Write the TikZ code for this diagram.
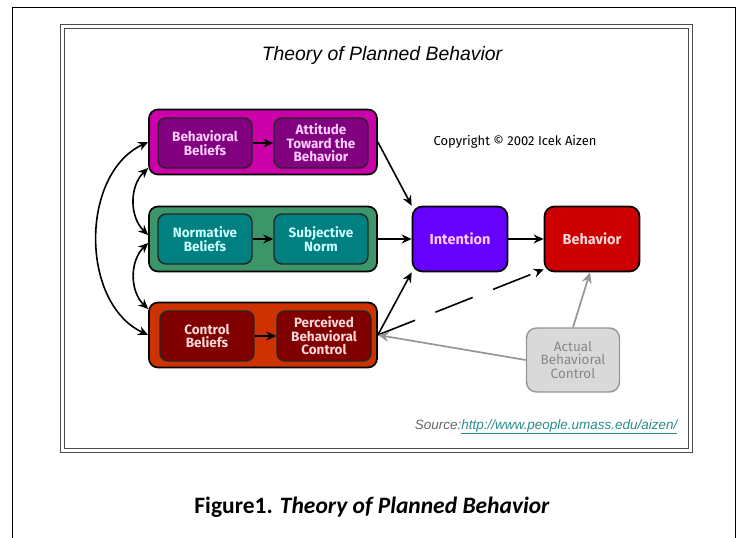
\documentclass[tikz,border=0pt]{standalone}
\usepackage{fontspec}
\usepackage{tikz}
\usepackage{xcolor}
\usetikzlibrary{arrows.meta}

\newfontfamily\comicfont{Fira Sans}
\newfontfamily\arialfont{Liberation Sans}
\newfontfamily\calibrifont{Carlito}

\definecolor{magout}{RGB}{204,0,170}
\definecolor{magin}{RGB}{128,0,128}
\definecolor{magtxt}{RGB}{255,204,255}
\definecolor{grnout}{RGB}{60,150,105}
\definecolor{grnin}{RGB}{0,128,128}
\definecolor{grntxt}{RGB}{204,255,255}
\definecolor{orgout}{RGB}{204,51,0}
\definecolor{orgin}{RGB}{128,0,0}
\definecolor{orgtxt}{RGB}{255,215,215}
\definecolor{intfill}{RGB}{102,0,255}
\definecolor{behfill}{RGB}{204,0,0}
\definecolor{actfill}{RGB}{217,217,217}
\definecolor{actline}{RGB}{150,150,150}
\definecolor{linkcol}{RGB}{40,140,140}

\begin{document}
\begin{tikzpicture}[x=1pt,y=-1pt,
    group/.style={draw=black, line width=1.7pt, rounded corners=9pt,
      minimum width=228pt, minimum height=65pt},
    inbox/.style={draw=black!85, line width=1.4pt, rounded corners=8pt,
      minimum width=94pt, minimum height=50pt, inner sep=1pt, align=center,
      font=\comicfont\bfseries\fontsize{13.5}{13.5}\selectfont},
    bigbox/.style={draw=black, line width=1.7pt, rounded corners=10pt,
      minimum width=95pt, minimum height=65pt,
      font=\comicfont\bfseries\fontsize{14.5}{15}\selectfont},
    arr/.style={-{Stealth[length=10pt,width=9pt]}, line width=1.6pt},
    both/.style={{Stealth[length=10pt,width=9pt]}-{Stealth[length=10pt,width=9pt]}, line width=1.6pt},
    grayarr/.style={-{Stealth[length=11pt,width=10pt]}, line width=1.7pt, draw=actline}]

    \useasboundingbox (0,0) rectangle (740,538);

    % page and frame
    \draw[line width=0.8pt] (12,538) -- (12,7) -- (735,7) -- (735,538);
    \draw[line width=1pt, black!70] (60,24) rectangle (692,452);
    \draw[line width=1pt, black!70] (64,28) rectangle (688,448);

    \node[font=\arialfont\itshape\fontsize{19.4}{19.4}\selectfont] (title) at (382,55) {Theory of Planned Behavior};
    \node[font=\comicfont\fontsize{13}{13}\selectfont] (copy) at (515,142) {Copyright \textcopyright{} 2002 Icek Aizen};

    % the three groups
    \node[group, fill=magout] (att) at (263,142) {};
    \node[inbox, fill=magin, text=magtxt] (bb) at (205,143) {Behavioral\\Beliefs};
    \node[inbox, fill=magin, text=magtxt] (ab) at (321,143) {Attitude\\Toward the\\Behavior};

    \node[group, fill=grnout] (norm) at (263,239) {};
    \node[inbox, fill=grnin, text=grntxt] (nb) at (205,239) {Normative\\Beliefs};
    \node[inbox, fill=grnin, text=grntxt] (sn) at (321,239) {Subjective\\Norm};

    \node[group, fill=orgout] (ctrl) at (263,335) {};
    \node[inbox, fill=orgin, text=orgtxt] (cb) at (207,336) {Control\\Beliefs};
    \node[inbox, fill=orgin, text=orgtxt] (pbc) at (324,336) {Perceived\\Behavioral\\Control};

    \node[bigbox, fill=intfill, text=magtxt] (int) at (460,239) {Intention};
    \node[bigbox, fill=behfill, text=orgtxt] (beh) at (592,239) {Behavior};
    \node[bigbox, fill=actfill, draw=actline, line width=1.4pt, text=actline!90!black, align=center,
      font=\comicfont\fontsize{13.5}{13.5}\selectfont, minimum width=93pt, minimum height=64pt] (act) at (573,360) {Actual\\Behavioral\\Control};

    % arrows
    \draw[arr] (bb) -- (ab);
    \draw[arr] (nb) -- (sn);
    \draw[arr] (cb) -- (pbc);
    \draw[arr] (att.east) -- (int.north west);
    \draw[arr] (norm.east) -- (int.west);
    \draw[arr] (ctrl.east) -- (int.south west);
    \draw[arr] (int) -- (beh);
    \draw[arr, dash pattern=on 40pt off 22pt] (ctrl.east) -- ([yshift=3pt]beh.south west);
    \draw[grayarr] (act.north) -- ([xshift=-2pt]beh.south);
    \draw[grayarr] (act.west) -- (ctrl.east);

    \draw[both] (att.west) to[bend right=65] (ctrl.west);
    \draw[both] ([yshift=-26pt]att.west) to[bend right=46] ([yshift=4pt]norm.west);
    \draw[both] ([yshift=-4pt]norm.west) to[bend right=46] ([yshift=26pt]ctrl.west);

    \node[anchor=east, font=\arialfont\itshape\fontsize{13.5}{13.5}\selectfont] (src) at (681,427)
      {\textcolor{black!60}{Source:}\textcolor{linkcol}{\underline{http://www.people.umass.edu/aizen/}}};

    \node[font=\calibrifont\bfseries\fontsize{23.5}{23.5}\selectfont] (cap) at (372,507)
      {Figure1. \itshape Theory of Planned Behavior};
\end{tikzpicture}
\end{document}
